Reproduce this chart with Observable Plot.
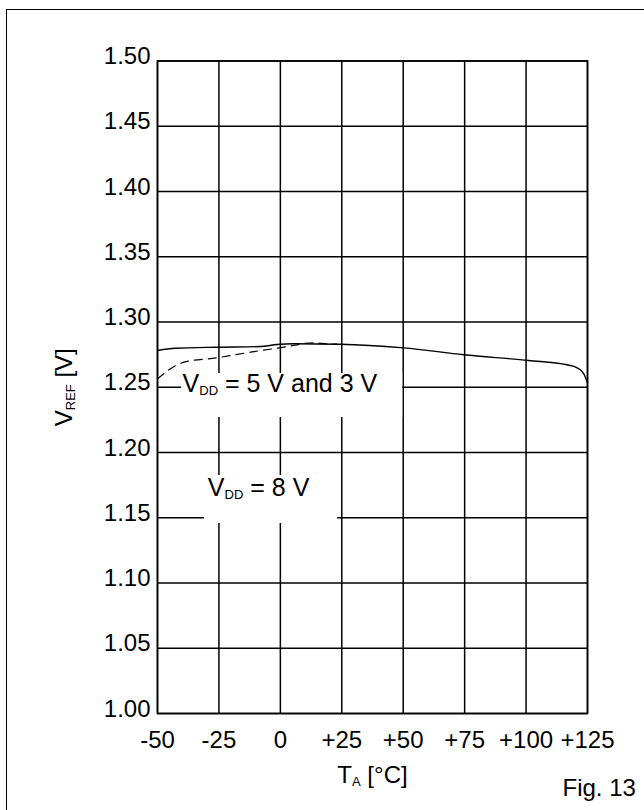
<!DOCTYPE html>
<html>
<head>
<meta charset="utf-8">
<script src="https://cdn.jsdelivr.net/npm/d3@7"></script>
<script src="https://cdn.jsdelivr.net/npm/@observablehq/plot@0.6"></script>
<style>
  html, body { margin: 0; padding: 0; background: #fff; width: 644px; height: 810px; overflow: hidden; }
  #outer { position: absolute; left: 5.5px; top: 8.5px; width: 700px; height: 900px; border: 1.6px solid #000; box-sizing: border-box; }
  #chart { position: absolute; left: 0; top: 0; }
</style>
</head>
<body>
<div id="outer"></div>
<div id="chart"></div>
<script>
// ---- data ----
// V_DD = 8 V (solid)
const tempSolid = [-50, -42.7, -25.7, -8.1, -1.3, 5.5, 24.5, 50.2, 74.7, 101.1, 116.7, 120.8, 123.5, 124.9];
const vrefSolid = [1.2782, 1.2799, 1.2807, 1.2812, 1.2828, 1.2833, 1.2830, 1.2802, 1.2749, 1.2705, 1.2672, 1.2649, 1.2603, 1.2539];
// V_DD = 5 V and 3 V (dashed)
const tempDashed = [-50, -39.3, -25.7, -12.2, 1.4, 13.6, 20.4, 23.0];
const vrefDashed = [1.2565, 1.2692, 1.2726, 1.2769, 1.2807, 1.2841, 1.2830, 1.2831];

const xTicks = [-50, -25, 0, 25, 50, 75, 100, 125];
const xTickLabels = ["-50", "-25", "0", "+25", "+50", "+75", "+100", "+125"];
const yTicks = [1.00, 1.05, 1.10, 1.15, 1.20, 1.25, 1.30, 1.35, 1.40, 1.45, 1.50];
const yTickLabels = ["1.00", "1.05", "1.10", "1.15", "1.20", "1.25", "1.30", "1.35", "1.40", "1.45", "1.50"];

// curve annotations (position in data units, with white label boxes)
const labelTexts = ["V_{DD} = 5 V and 3 V", "V_{DD} = 8 V"];
const labelT = [-39.8, -29.5];
const labelV = [1.2525, 1.1728];
const boxT1 = [-40.2, -30.9];
const boxT2 = [49.8, 23.3];
const boxV1 = [1.2268, 1.1456];
const boxV2 = [1.2605, 1.1824];

const xLabel = "T_{A} [°C]";
const yLabel = "V_{REF} [V]";
const figLabel = "Fig. 13";

// ---- build ----
const solid = tempSolid.map((t, i) => ({t, v: vrefSolid[i]}));
const dashed = tempDashed.map((t, i) => ({t, v: vrefDashed[i]}));
const labels = labelTexts.map((s, i) => ({s, t: labelT[i], v: labelV[i]}));
const boxes = boxT1.map((t1, i) => ({t1, t2: boxT2[i], v1: boxV1[i], v2: boxV2[i]}));

const FONT = "'Liberation Sans', Arial, Helvetica, sans-serif";

const chart = Plot.plot({
  width: 644,
  height: 810,
  marginLeft: 157,
  marginRight: 57,
  marginTop: 60.5,
  marginBottom: 97,
  style: {fontFamily: FONT, fontSize: "24px", color: "#000", background: "transparent"},
  x: {domain: [-50, 125]},
  y: {domain: [1.0, 1.5]},
  marks: [
    Plot.gridX(xTicks, {stroke: "#000", strokeOpacity: 1, strokeWidth: 1.5}),
    Plot.gridY(yTicks, {stroke: "#000", strokeOpacity: 1, strokeWidth: 1.5}),
    Plot.rect(boxes, {x1: "t1", x2: "t2", y1: "v1", y2: "v2", fill: "#fff"}),
    Plot.line(dashed, {x: "t", y: "v", stroke: "#000", strokeWidth: 1.2, strokeDasharray: "8,6", curve: "monotone-x"}),
    Plot.line(solid, {x: "t", y: "v", stroke: "#000", strokeWidth: 1.4, curve: "monotone-x"}),
    Plot.text(labels, {x: "t", y: "v", text: "s", textAnchor: "start", lineAnchor: "middle", fontSize: 25, fill: "#000"}),
    Plot.axisX(xTicks, {tickSize: 0, tickPadding: 17, fontSize: 24, label: null,
      tickFormat: d => xTickLabels[xTicks.indexOf(d)], fill: "#000"}),
    Plot.axisY(yTicks, {tickSize: 0, tickPadding: 7, fontSize: 24, label: null, dy: -4.5,
      tickFormat: d => yTickLabels[yTicks.indexOf(d)], fill: "#000"}),
    Plot.text([xLabel], {frameAnchor: "bottom", dy: 61.5, lineAnchor: "middle", textAnchor: "middle", fontSize: 24, fill: "#000"}),
    Plot.text([yLabel], {frameAnchor: "left", dx: -93, rotate: -90, lineAnchor: "middle", textAnchor: "middle", fontSize: 24, fill: "#000"}),
    Plot.text([figLabel], {frameAnchor: "bottom-right", dx: -25, dy: 75, lineAnchor: "middle", textAnchor: "start", fontSize: 24, fill: "#000"}),
    Plot.frame({stroke: "#000", strokeWidth: 1.6})
  ]
});

// turn "X_{sub}" markers into real subscripts
d3.select(chart).selectAll("text").each(function() {
  const el = this;
  const s = el.textContent;
  const m = s.match(/^(.*?)_\{(.*?)\}(.*)$/);
  if (!m) return;
  while (el.firstChild) el.removeChild(el.firstChild);
  const sel = d3.select(el);
  sel.append("tspan").text(m[1]);
  sel.append("tspan").attr("font-size", 13).attr("dy", 3).text(m[2]);
  sel.append("tspan").attr("dy", -3).text(m[3]);
});

document.getElementById("chart").appendChild(chart);
</script>
</body>
</html>
